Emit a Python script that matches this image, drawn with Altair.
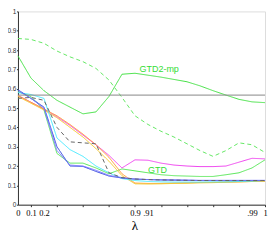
import altair as alt
import pandas as pd

# x positions are evenly spaced lambda steps
lambdas = ["0", "0.1", "0.2", "0.3", "0.4", "0.5", "0.6", "0.7", "0.8", "0.9",
           ".91", ".92", ".93", ".94", ".95", ".96", ".97", ".98", ".99", "1"]
x_index = list(range(len(lambdas)))
x_label_idx = [0, 1, 2, 9, 10, 18, 19]
x_tick_idx = [1, 3, 5, 7, 9, 11, 13, 15, 17, 19]
y_ticks = [0, 0.1, 0.2, 0.3, 0.4, 0.5, 0.6, 0.7, 0.8, 0.9, 1.0]

gtd2mp = [0.77, 0.655, 0.59, 0.54, 0.505, 0.47, 0.48, 0.56, 0.675, 0.68,
          0.67, 0.66, 0.648, 0.636, 0.615, 0.59, 0.567, 0.545, 0.532, 0.528]
gtd2mp_dash = [0.86, 0.855, 0.835, 0.795, 0.765, 0.74, 0.705, 0.645, 0.555, 0.46,
               0.415, 0.38, 0.35, 0.315, 0.28, 0.25, 0.28, 0.32, 0.31, 0.27]
gtd = [0.585, 0.56, 0.49, 0.265, 0.215, 0.215, 0.19, 0.16, 0.185, 0.175,
       0.165, 0.155, 0.15, 0.148, 0.146, 0.146, 0.155, 0.165, 0.19, 0.232]
magenta = [0.565, 0.53, 0.495, 0.455, 0.41, 0.36, 0.31, 0.255, 0.19, 0.232,
           0.23, 0.215, 0.205, 0.2, 0.197, 0.197, 0.2, 0.22, 0.24, 0.237]
orange = [0.565, 0.53, 0.495, 0.46, 0.415, 0.365, 0.31, 0.245, 0.16, 0.112,
          0.11, 0.11, 0.112, 0.113, 0.115, 0.115, 0.117, 0.118, 0.12, 0.122]
yellow = [0.56, 0.525, 0.49, 0.45, 0.40, 0.35, 0.29, 0.225, 0.15, 0.108,
          0.107, 0.108, 0.11, 0.111, 0.113, 0.114, 0.116, 0.118, 0.12, 0.122]
cyan = [0.58, 0.57, 0.55, 0.345, 0.285, 0.25, 0.2, 0.165, 0.135, 0.125,
        0.12, 0.118, 0.117, 0.117, 0.117, 0.118, 0.118, 0.12, 0.122, 0.125]
blue = [0.595, 0.55, 0.505, 0.3, 0.2, 0.198, 0.172, 0.148, 0.138, 0.132,
        0.13, 0.128, 0.127, 0.126, 0.125, 0.125, 0.125, 0.125, 0.125, 0.125]
purple = [0.59, 0.55, 0.50, 0.28, 0.205, 0.2, 0.178, 0.152, 0.14, 0.133,
          0.13, 0.129, 0.128, 0.127, 0.126, 0.126, 0.126, 0.126, 0.126, 0.126]
graydash = [0.55, 0.555, 0.54, 0.40, 0.325, 0.32, 0.315, 0.165, 0.14, 0.133,
            0.13, 0.128, 0.127, 0.126, 0.125, 0.125, 0.125, 0.125, 0.125, 0.125]

series_names = ["GTD2-mp", "GTD2-mp dashed", "GTD", "magenta", "orange", "yellow",
                "cyan", "blue", "purple", "gray dashed"]
series_values = [gtd2mp, gtd2mp_dash, gtd, magenta, orange, yellow, cyan, blue, purple, graydash]
series_colors = ["#44e044", "#66e866", "#55e655", "#ee44ee", "#ff9933", "#f2c62a",
                 "#44e8ff", "#3344dd", "#7777ff", "#666666"]
series_dash = ["solid", "dashed", "solid", "solid", "solid", "solid",
               "solid", "solid", "solid", "dashed"]

ref_level = [0.567]
labels_text = ["GTD2-mp", "GTD"]
labels_x = [9.35, 10.0]
labels_y = [0.703, 0.18]

rows = []
for name, vals, dash in zip(series_names, series_values, series_dash):
    for i, v in zip(x_index, vals):
        rows.append({"series": name, "idx": i, "value": v, "dash": dash})
df = pd.DataFrame(rows)

label_expr = " : ".join(
    f"datum.value == {i} ? '{lambdas[i]}'" for i in x_label_idx
) + " : ''"

x_scale = alt.Scale(domain=[0, 19], nice=False, zero=False)
y_scale = alt.Scale(domain=[0, 1], nice=False)

x_axis = alt.Axis(
    values=x_index, labelExpr=label_expr, labelOverlap=False, labelFlush=False,
    tickOpacity={"condition": {"test": "datum.value % 2 == 1", "value": 1}, "value": 0},
    title="λ", titleFont="Liberation Serif", titleFontSize=13, titleFontWeight="normal",
    titleColor="black", titlePadding=2, titleX=117, titleAlign="center",
    labelFont="Liberation Serif", labelFontSize=8.5, labelColor="black", labelPadding=2,
    grid=False, domainColor="#333333", tickColor="#333333", tickSize=2,
)
y_axis = alt.Axis(
    values=y_ticks, labelOverlap=False,
    labelExpr="datum.value == 0 ? '0' : datum.value == 1 ? '1' : format(datum.value, '.1f')",
    title=None, labelFont="Liberation Sans", labelFontSize=6.5, labelColor="#333333",
    labelPadding=0.5, grid=False, domainColor="#333333", tickColor="#333333", tickSize=1.5,
)

lines = alt.Chart(df).mark_line(strokeWidth=1).encode(
    x=alt.X("idx:Q", scale=x_scale, axis=x_axis),
    y=alt.Y("value:Q", scale=y_scale, axis=y_axis),
    color=alt.Color("series:N", scale=alt.Scale(domain=series_names, range=series_colors), legend=None),
    strokeDash=alt.StrokeDash("dash:N", scale=alt.Scale(domain=["solid", "dashed"], range=[[1, 0], [4, 3]]), legend=None),
    detail="series:N",
)

ref_df = pd.DataFrame({"y": ref_level, "x0": [x_index[0]], "x1": [x_index[-1]]})
ref = alt.Chart(ref_df).mark_rule(color="#888888", strokeWidth=1).encode(
    x=alt.X("x0:Q", scale=x_scale, axis=x_axis), x2="x1:Q",
    y=alt.Y("y:Q", scale=y_scale, axis=y_axis)
)

lab_df = pd.DataFrame({"text": labels_text, "x": labels_x, "y": labels_y})
labs = alt.Chart(lab_df).mark_text(
    align="left", baseline="middle", font="Liberation Sans", fontSize=9, color="#33dd33"
).encode(
    x=alt.X("x:Q", scale=x_scale, axis=x_axis),
    y=alt.Y("y:Q", scale=y_scale, axis=y_axis),
    text="text:N",
)

chart = alt.layer(lines, ref, labs).properties(
    width=248, height=194,
    autosize=alt.AutoSizeParams(type="none"),
    padding={"left": 10, "top": 3, "right": 4, "bottom": 30},
).configure_view(stroke=None).configure(background="white")

chart.save("out.html", embed_options={"renderer": "svg", "actions": False})
